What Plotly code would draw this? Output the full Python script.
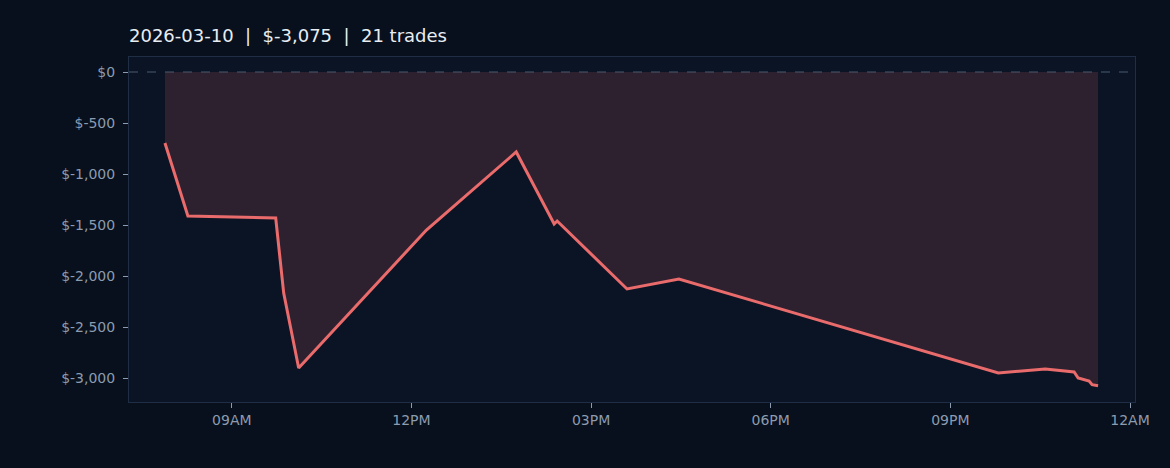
"""
Intraday cumulative P&L curve, dark theme
"""

import plotly.graph_objects as go

# Datos
trade_times = [
    "2026-03-10 07:53", "2026-03-10 08:16", "2026-03-10 09:44", "2026-03-10 09:52",
    "2026-03-10 10:07", "2026-03-10 12:15", "2026-03-10 13:45", "2026-03-10 14:23",
    "2026-03-10 14:26", "2026-03-10 15:36", "2026-03-10 16:28", "2026-03-10 21:48",
    "2026-03-10 22:35", "2026-03-10 23:04", "2026-03-10 23:08", "2026-03-10 23:12",
    "2026-03-10 23:19", "2026-03-10 23:22", "2026-03-10 23:24", "2026-03-10 23:27",
    "2026-03-10 23:28",
]
cum_pnl = [
    -696, -1412, -1431, -2167,
    -2902, -1549, -784, -1490,
    -1461, -2127, -2029, -2951,
    -2912, -2941, -3000, -3010,
    -3030, -3065, -3070, -3072,
    -3075,
]
x_range = ["2026-03-10 07:17", "2026-03-11 00:05"]
y_range = [-3235, 147]
y_tickvals = [0, -500, -1000, -1500, -2000, -2500, -3000]
y_ticktext = ["$0", "$-500", "$-1,000", "$-1,500", "$-2,000", "$-2,500", "$-3,000"]
title_text = "2026-03-10  |  $-3,075  |  21 trades"

BG = "#07101c"
PLOT_BG = "#0b1424"
LINE = "#ea6b6c"
TICK = "#8c9bb0"
AXIS = "#1f2e44"

fig = go.Figure()

fig.add_trace(
    go.Scatter(
        x=trade_times, y=cum_pnl,
        mode="lines",
        line=dict(color=LINE, width=3),
        fill="tozeroy",
        fillcolor="rgba(232,105,107,0.16)",
        name="P&L",
        showlegend=False,
    )
)

# Línea de referencia en cero
fig.add_hline(y=0, line=dict(color="#4b5a70", width=1, dash="dash"))

fig.update_layout(
    width=1170, height=468,
    paper_bgcolor=BG,
    plot_bgcolor=PLOT_BG,
    margin=dict(l=129, r=35, t=57, b=66),
    font=dict(family="DejaVu Sans", color=TICK, size=14),
    title=dict(
        text=title_text,
        x=129 / 1170, xanchor="left",
        y=1 - 36 / 468, yanchor="middle",
        font=dict(size=18, color="#e8edf3"),
    ),
    showlegend=False,
)

fig.update_xaxes(
    range=x_range,
    tickformat="%I%p",
    dtick=3 * 3600 * 1000,
    tick0="2026-03-10 00:00",
    showgrid=False, zeroline=False,
    showline=True, linecolor=AXIS, mirror=True,
    ticks="outside", ticklen=5, tickcolor=TICK,
    tickfont=dict(color=TICK, size=14),
)
fig.update_yaxes(
    range=y_range,
    tickvals=y_tickvals, ticktext=y_ticktext,
    showgrid=False, zeroline=False,
    showline=True, linecolor=AXIS, mirror=True,
    ticks="outside", ticklen=5, tickcolor=TICK,
    ticklabelstandoff=5,
    tickfont=dict(color=TICK, size=14),
)

fig.write_html(
    "out.html",
    config={"displayModeBar": False},
    post_script="document.body.style.margin='0';",
)
